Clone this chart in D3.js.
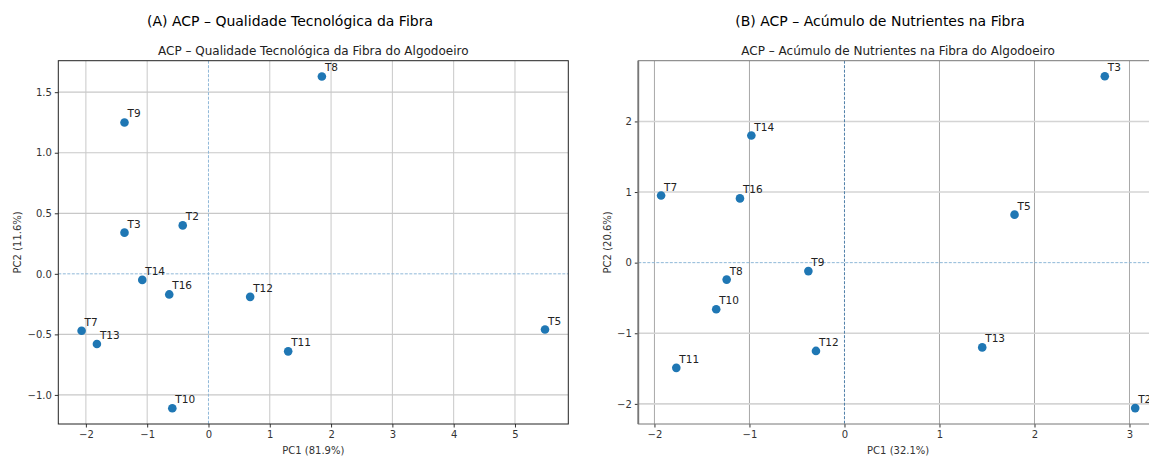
<!DOCTYPE html>
<html>
<head>
<meta charset="utf-8">
<script src="https://cdn.jsdelivr.net/npm/d3@7"></script>
<style>
  body { margin: 0; background: #fff; }
  svg { font-family: "DejaVu Sans", sans-serif; }
</style>
</head>
<body>
<svg width="1149" height="457"></svg>
<script>
// panel A - fibre quality
const labelsA = ["T9", "T3", "T2", "T14", "T16", "T12", "T7", "T13", "T10", "T11", "T5", "T8"];
const pc1A = [-1.37, -1.37, -0.42, -1.08, -0.64, 0.68, -2.07, -1.82, -0.59, 1.30, 5.49, 1.85];
const pc2A = [1.25, 0.34, 0.40, -0.05, -0.17, -0.19, -0.47, -0.58, -1.11, -0.64, -0.46, 1.63];
const xTicksA = [-2, -1, 0, 1, 2, 3, 4, 5];
const yTicksA = [-1.0, -0.5, 0.0, 0.5, 1.0, 1.5];

// panel B - nutrient accumulation
const labelsB = ["T14", "T7", "T16", "T9", "T8", "T10", "T12", "T11", "T13", "T2", "T3", "T5"];
const pc1B = [-0.98, -1.93, -1.10, -0.38, -1.24, -1.35, -0.30, -1.77, 1.45, 3.06, 2.74, 1.79];
const pc2B = [1.80, 0.95, 0.91, -0.12, -0.24, -0.66, -1.25, -1.49, -1.20, -2.06, 2.64, 0.68];
const xTicksB = [-2, -1, 0, 1, 2, 3];
const yTicksB = [-2, -1, 0, 1, 2];

let svg = d3.select("svg");
const minus = s => s.replace("-", "\u2212");

function panel(cfg) {
  let x = d3.scaleLinear().domain(cfg.xDom).range([cfg.left, cfg.right]);
  let y = d3.scaleLinear().domain(cfg.yDom).range([cfg.bottom, cfg.top]);
  let g = svg.append("g");

  // figure-level title
  g.append("text").attr("x", cfg.supX).attr("y", 26)
    .attr("text-anchor", "middle").attr("font-size", 14).attr("fill", "#000")
    .text(cfg.supTitle);
  // axes title
  g.append("text").attr("x", (cfg.left + cfg.right) / 2).attr("y", cfg.top - 6)
    .attr("text-anchor", "middle").attr("font-size", 12).attr("fill", "#222")
    .text(cfg.title);

  let clip = "clip" + cfg.id;
  g.append("clipPath").attr("id", clip).append("rect")
    .attr("x", cfg.left).attr("y", cfg.top)
    .attr("width", cfg.right - cfg.left).attr("height", cfg.bottom - cfg.top);
  let plot = g.append("g").attr("clip-path", `url(#${clip})`);

  // grid
  plot.selectAll(".vg").data(cfg.xTicks.filter(d => d !== 0)).enter().append("line")
    .attr("x1", d => x(d)).attr("x2", d => x(d))
    .attr("y1", cfg.top).attr("y2", cfg.bottom)
    .attr("stroke", cfg.vGrid).attr("stroke-width", 1);
  plot.selectAll(".hg").data(cfg.yTicks.filter(d => d !== 0)).enter().append("line")
    .attr("y1", d => y(d)).attr("y2", d => y(d))
    .attr("x1", cfg.left).attr("x2", cfg.right)
    .attr("stroke", cfg.hGrid).attr("stroke-width", cfg.hGridW);

  // zero reference lines
  plot.append("line").attr("x1", cfg.left).attr("x2", cfg.right)
    .attr("y1", y(0)).attr("y2", y(0))
    .attr("stroke", "#8fb8d8").attr("stroke-width", 1).attr("stroke-dasharray", "3,1.5");
  plot.append("line").attr("x1", x(0)).attr("x2", x(0))
    .attr("y1", cfg.top).attr("y2", cfg.bottom)
    .attr("stroke", cfg.vZero).attr("stroke-width", 1).attr("stroke-dasharray", "3,1.5");

  // points + labels
  let pts = cfg.labels.map((l, i) => ({ l: l, a: cfg.pc1[i], b: cfg.pc2[i] }));
  plot.selectAll("circle").data(pts).enter().append("circle")
    .attr("cx", d => x(d.a)).attr("cy", d => y(d.b)).attr("r", 4.3)
    .attr("fill", "#1f77b4");
  g.selectAll(".lbl").data(pts).enter().append("text")
    .attr("x", d => x(d.a) + 3).attr("y", d => y(d.b) - 5)
    .attr("font-size", 10.5).attr("fill", "#222")
    .text(d => d.l);

  // axes
  let ax = g.append("g").attr("transform", `translate(0,${cfg.bottom})`)
    .call(d3.axisBottom(x).tickValues(cfg.xTicks).tickFormat(d => minus(d3.format("d")(d))).tickSize(3.5).tickPadding(3));
  let ay = g.append("g").attr("transform", `translate(${cfg.left},0)`)
    .call(d3.axisLeft(y).tickValues(cfg.yTicks).tickFormat(d => minus(d3.format(cfg.yFmt)(d))).tickSize(3.5).tickPadding(3));
  [ax, ay].forEach(a => {
    a.select(".domain").remove();
    a.selectAll("line").attr("stroke", "#333");
    a.selectAll("text").attr("font-size", 10).attr("fill", "#333")
      .attr("font-family", "DejaVu Sans, sans-serif");
  });

  // frame
  g.append("rect").attr("x", cfg.left).attr("y", cfg.top)
    .attr("width", cfg.right - cfg.left).attr("height", cfg.bottom - cfg.top)
    .attr("fill", "none").attr("stroke", cfg.frame).attr("stroke-width", 1);
  if (cfg.leftSpine) {
    g.append("line").attr("x1", cfg.left).attr("x2", cfg.left)
      .attr("y1", cfg.top).attr("y2", cfg.bottom)
      .attr("stroke", cfg.leftSpine).attr("stroke-width", 1.8);
  }

  // axis labels
  g.append("text").attr("x", (cfg.left + cfg.right) / 2).attr("y", 454)
    .attr("text-anchor", "middle").attr("font-size", 10).attr("fill", "#333")
    .text(cfg.xLabel);
  g.append("text").attr("transform", `translate(${cfg.left - cfg.yLabelOff},${(cfg.top + cfg.bottom) / 2}) rotate(-90)`)
    .attr("text-anchor", "middle").attr("font-size", 10).attr("fill", "#333")
    .text(cfg.yLabel);
}

panel({
  id: "A", left: 58.3, right: 568.3, top: 60.7, bottom: 424,
  xDom: [-2.45, 5.87], yDom: [-1.24, 1.76],
  xTicks: xTicksA, yTicks: yTicksA, yFmt: ".1f",
  labels: labelsA, pc1: pc1A, pc2: pc2A,
  supX: 290, supTitle: "(A) ACP \u2013 Qualidade Tecnológica da Fibra",
  title: "ACP \u2013 Qualidade Tecnológica da Fibra do Algodoeiro",
  xLabel: "PC1 (81.9%)", yLabel: "PC2 (11.6%)", yLabelOff: 37,
  vGrid: "#c8c8c8", hGrid: "#c8c8c8", hGridW: 1.2, vZero: "#8fb8d8",
  frame: "#222", leftSpine: null
});

panel({
  id: "B", left: 638.3, right: 1158, top: 60.7, bottom: 424,
  xDom: [-2.17, 3.30], yDom: [-2.285, 2.86],
  xTicks: xTicksB, yTicks: yTicksB, yFmt: "d",
  labels: labelsB, pc1: pc1B, pc2: pc2B,
  supX: 880, supTitle: "(B) ACP \u2013 Acúmulo de Nutrientes na Fibra",
  title: "ACP \u2013 Acúmulo de Nutrientes na Fibra do Algodoeiro",
  xLabel: "PC1 (32.1%)", yLabel: "PC2 (20.6%)", yLabelOff: 27.5,
  vGrid: "#a8a8a8", hGrid: "#d4d4d4", hGridW: 1.6, vZero: "#4f7fa8",
  frame: "#777", leftSpine: "#777"
});
</script>
</body>
</html>
